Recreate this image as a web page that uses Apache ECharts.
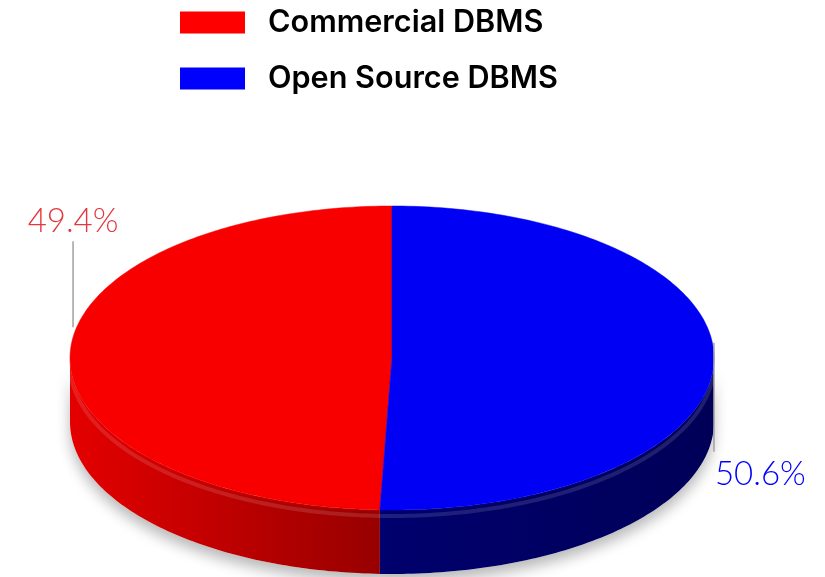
<!DOCTYPE html>
<html>
<head>
<meta charset="utf-8">
<script src="https://cdn.jsdelivr.net/npm/echarts@6/dist/echarts.min.js"></script>
<style>html,body{margin:0;padding:0;background:#fff}#c{width:825px;height:577px}</style>
</head>
<body>
<div id="c"></div>
<script>
const categories = ['Commercial DBMS', 'Open Source DBMS'];
const values = [49.4, 50.6];
const labelTexts = ['49.4%', '50.6%'];
const legendColors = ['#ff0000', '#0000ff'];
const topColors = ['#f80000', '#0000f4'];
const sideColorsFrom = ['#e40000', '#00006e'];
const sideColorsTo = ['#980000', '#000058'];
const labelColors = ['#e2383f', '#0000ff'];

const G = { cx: 392, cy: 358, rx: 322, ry: 152, depth: 64 };
const total = values.reduce((a, b) => a + b, 0);

function pt(deg, dy) {
  const t = deg * Math.PI / 180;
  return [G.cx + G.rx * Math.sin(t), G.cy - G.ry * Math.cos(t) + (dy || 0)];
}
function arc(a, b, dy) {
  const pts = [];
  const n = Math.max(2, Math.ceil(Math.abs(b - a) / 1));
  for (let k = 0; k <= n; k++) pts.push(pt(a + (b - a) * k / n, dy));
  return pts;
}

function makeRender(i) {
  return function (params, api) {
    const v = api.value(0);
    let before = 0;
    for (let j = 0; j < i; j++) before += values[j];
    const b = 360 - before / total * 360;
    const a = 360 - (before + v) / total * 360;
    const children = [];
    const sa = Math.max(a, 90), sb = Math.min(b, 270);
    if (sb > sa) {
      const topArc = arc(sa, sb, 0);
      const botArc = arc(sb, sa, G.depth);
      const sidePts = topArc.concat(botArc);
      const x1 = pt(sa)[0], x2 = pt(sb)[0];
      children.push({
        type: 'polygon', z2: 0,
        shape: { points: sidePts },
        style: { fill: '#fff', shadowBlur: 14, shadowColor: 'rgba(0,0,0,0.28)', shadowOffsetY: 8 }
      });
      children.push({
        type: 'polygon', z2: 1,
        shape: { points: sidePts },
        style: {
          fill: {
            type: 'linear', global: true,
            x: Math.min(x1, x2), y: 0, x2: Math.max(x1, x2), y2: 0,
            colorStops: [{ offset: 0, color: sideColorsFrom[i] }, { offset: 1, color: sideColorsTo[i] }]
          }
        }
      });
      children.push({
        type: 'polyline', z2: 1.5,
        shape: { points: arc(sa, sb, 6) },
        style: { fill: null, stroke: 'rgba(255,255,255,0.12)', lineWidth: 4 }
      });
    }
    const topPts = [[G.cx, G.cy]].concat(arc(a, b, 0));
    children.push({
      type: 'polygon', z2: 2,
      shape: { points: topPts },
      style: { fill: topColors[i], stroke: topColors[i], lineWidth: 0.5 }
    });
    const mid = (a + b) / 2;
    const e = pt(mid);
    const font = '300 33px Lato';
    if (Math.sin(mid * Math.PI / 180) < 0) {
      children.push({ type: 'line', z2: 3, shape: { x1: e[0] + 3, y1: e[1] - 28, x2: e[0] + 3, y2: e[1] - 114 }, style: { stroke: '#a0a0a0', lineWidth: 1.5 } });
      children.push({ type: 'text', z2: 3, style: { text: labelTexts[i], x: e[0] + 3, y: e[1] - 134, align: 'center', verticalAlign: 'middle', fill: labelColors[i], font: font } });
    } else {
      children.push({ type: 'line', z2: 3, shape: { x1: e[0], y1: e[1] - 18, x2: e[0], y2: e[1] + 91 }, style: { stroke: '#a0a0a0', lineWidth: 1.5 } });
      children.push({ type: 'text', z2: 3, style: { text: labelTexts[i], x: e[0] + 1, y: e[1] + 113, align: 'left', verticalAlign: 'middle', fill: labelColors[i], font: font } });
    }
    return { type: 'group', children: children };
  };
}

const chart = echarts.init(document.getElementById('c'), null, { renderer: 'canvas' });
chart.setOption({
  animation: false,
  backgroundColor: '#fff',
  legend: {
    orient: 'vertical', left: 175, top: 2,
    itemWidth: 65, itemHeight: 22, itemGap: 25,
    selectedMode: false,
    icon: 'rect',
    data: categories,
    textStyle: { fontFamily: 'Inter', fontSize: 30.6, fontWeight: 600, color: '#000', padding: [0, 0, 0, 18] }
  },
  series: categories.map((name, i) => ({
    type: 'custom', name: name, coordinateSystem: 'none',
    itemStyle: { color: legendColors[i] },
    renderItem: makeRender(i),
    data: [[values[i]]]
  }))
});
</script>
</body>
</html>
